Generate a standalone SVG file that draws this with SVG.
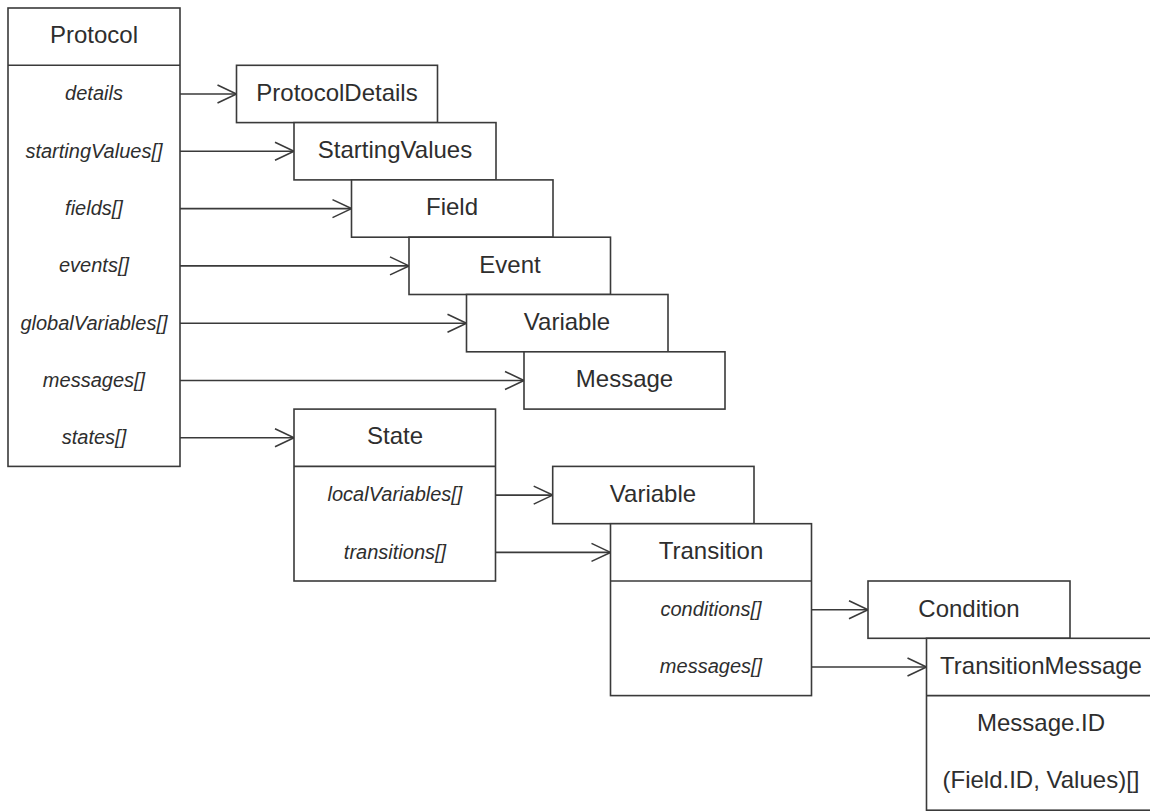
<svg xmlns="http://www.w3.org/2000/svg" width="1150" height="812" viewBox="0 0 1150 812">
<style>
.box{fill:#fff;stroke:#3a3a3a;stroke-width:1.6}
.div{stroke:#3a3a3a;stroke-width:1.6}
.h{font-family:"Liberation Sans",Arial,sans-serif;font-size:24px;fill:#2e2e2e;text-anchor:middle}
.l{font-family:"Liberation Sans",Arial,sans-serif;font-size:20px;font-style:italic;fill:#2e2e2e;text-anchor:middle}
.c{stroke:#3a3a3a;stroke-width:1.6;fill:none;marker-end:url(#arr)}
</style>
<defs>
<marker id="arr" markerUnits="userSpaceOnUse" markerWidth="22" markerHeight="22" viewBox="0 0 22 22" refX="20" refY="11" orient="auto">
<path d="M1,2 L20,11 L1,20" fill="none" stroke="#3a3a3a" stroke-width="1.6"/>
</marker>
</defs>
<rect width="1150" height="812" fill="#fff"/>
<g id="connectors">
<line class="c" x1="180" y1="94" x2="236.5" y2="94"/>
<line class="c" x1="180" y1="151.3" x2="294" y2="151.3"/>
<line class="c" x1="180" y1="208.6" x2="351.5" y2="208.6"/>
<line class="c" x1="180" y1="265.9" x2="409" y2="265.9"/>
<line class="c" x1="180" y1="323.2" x2="466.5" y2="323.2"/>
<line class="c" x1="180" y1="380.5" x2="524" y2="380.5"/>
<line class="c" x1="180" y1="437.8" x2="294" y2="437.8"/>
<line class="c" x1="495.5" y1="495.1" x2="552.7" y2="495.1"/>
<line class="c" x1="495.5" y1="552.4" x2="610.5" y2="552.4"/>
<line class="c" x1="811.5" y1="609.7" x2="868" y2="609.7"/>
<line class="c" x1="811.5" y1="667" x2="926.5" y2="667"/>
</g>
<g id="protocol">
<rect class="box" x="8" y="8" width="172" height="458.4"/>
<line class="div" x1="8" y1="65.3" x2="180" y2="65.3"/>
<text class="h" x="94" y="43">Protocol</text>
<text class="l" x="94" y="100">details</text>
<text class="l" x="94" y="158">startingValues[]</text>
<text class="l" x="94" y="215">fields[]</text>
<text class="l" x="94" y="272">events[]</text>
<text class="l" x="94" y="330">globalVariables[]</text>
<text class="l" x="94" y="387">messages[]</text>
<text class="l" x="94" y="444">states[]</text>
</g>
<g id="protocolDetails">
<rect class="box" x="236.5" y="65.3" width="201" height="57.3"/>
<text class="h" x="337" y="101">ProtocolDetails</text>
</g>
<g id="startingValues">
<rect class="box" x="294" y="122.6" width="202" height="57.3"/>
<text class="h" x="395" y="158">StartingValues</text>
</g>
<g id="field">
<rect class="box" x="351.5" y="179.9" width="201.5" height="57.3"/>
<text class="h" x="452" y="215">Field</text>
</g>
<g id="event">
<rect class="box" x="409" y="237.2" width="201.5" height="57.3"/>
<text class="h" x="510" y="273">Event</text>
</g>
<g id="variable">
<rect class="box" x="466.5" y="294.5" width="201.5" height="57.3"/>
<text class="h" x="567" y="330">Variable</text>
</g>
<g id="message">
<rect class="box" x="524" y="351.8" width="201" height="57.3"/>
<text class="h" x="624.5" y="387">Message</text>
</g>
<g id="state">
<rect class="box" x="294" y="409.1" width="201.5" height="171.9"/>
<line class="div" x1="294" y1="466.4" x2="495.5" y2="466.4"/>
<text class="h" x="395" y="444">State</text>
<text class="l" x="395" y="501">localVariables[]</text>
<text class="l" x="395" y="559">transitions[]</text>
</g>
<g id="localVariable">
<rect class="box" x="552.7" y="466.4" width="201.3" height="57.3"/>
<text class="h" x="653" y="502">Variable</text>
</g>
<g id="transition">
<rect class="box" x="610.5" y="523.7" width="201" height="171.9"/>
<line class="div" x1="610.5" y1="581" x2="811.5" y2="581"/>
<text class="h" x="711" y="559">Transition</text>
<text class="l" x="711" y="616">conditions[]</text>
<text class="l" x="711" y="673">messages[]</text>
</g>
<g id="condition">
<rect class="box" x="868" y="581" width="202" height="57.3"/>
<text class="h" x="969" y="617">Condition</text>
</g>
<g id="transitionMessage">
<rect class="box" x="926.5" y="638.3" width="230" height="171.9"/>
<line class="div" x1="926.5" y1="695.6" x2="1156.5" y2="695.6"/>
<text class="h" x="1041" y="674">TransitionMessage</text>
<text class="h" x="1041" y="731">Message.ID</text>
<text class="h" x="1041" y="788">(Field.ID, Values)[]</text>
</g>
</svg>
